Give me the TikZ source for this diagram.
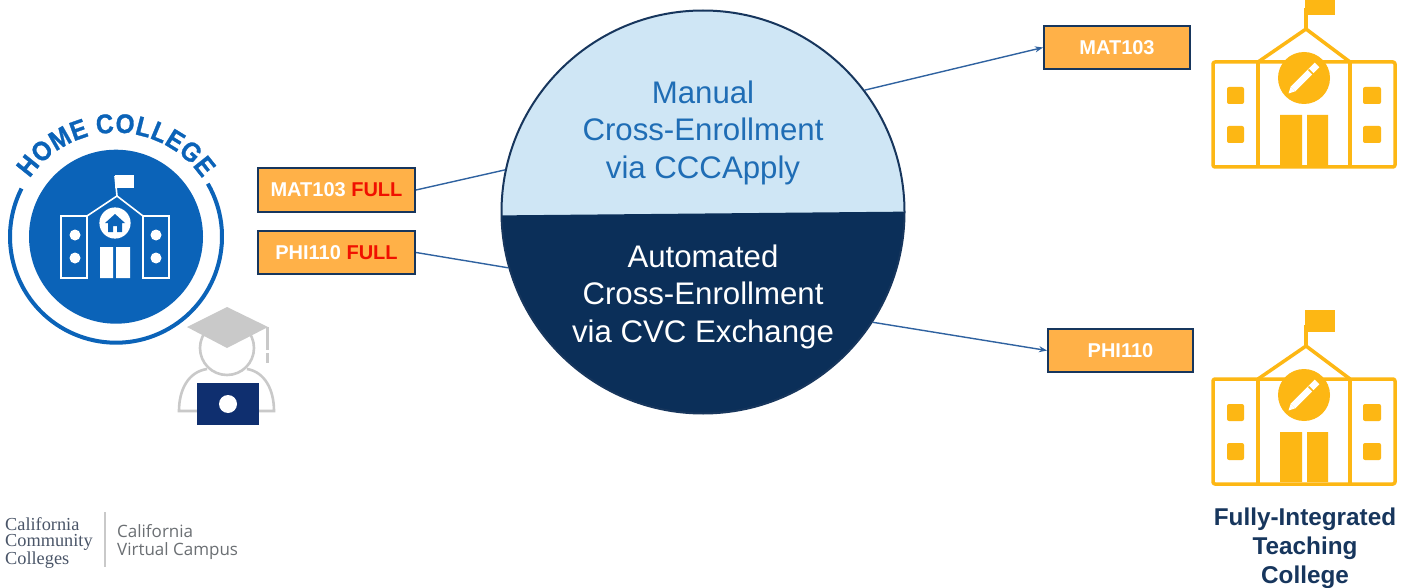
\documentclass[tikz,border=0pt]{standalone}
\usepackage{fontspec}
\setmainfont{Liberation Sans}
\newfontfamily\logoserif{Liberation Serif}
\newfontfamily\logosans{Open Sans}
\newfontfamily\homefont[FakeStretch=0.9,BoldFeatures={FakeBold=1}]{Liberation Sans}
\usetikzlibrary{decorations.text,arrows.meta}
\definecolor{lightblue}{HTML}{CFE6F5}
\definecolor{navy}{HTML}{0B2F59}
\definecolor{midblue}{HTML}{1F6DB5}
\definecolor{homeblue}{HTML}{0B63B8}
\definecolor{boxfill}{HTML}{FFB148}
\definecolor{boxline}{HTML}{17365D}
\definecolor{gold}{HTML}{FDB714}
\definecolor{capgray}{HTML}{C9C9C9}
\definecolor{laptop}{HTML}{0F2F6F}
\definecolor{fullred}{HTML}{F01000}
\definecolor{linkblue}{HTML}{2F62A0}
\definecolor{logoink}{HTML}{4A5568}
\definecolor{logogray}{HTML}{6B6F73}
\tikzset{
  course/.style={draw=boxline,line width=2pt,fill=boxfill,text=white,inner sep=0pt,
    font=\fontsize{20}{22}\selectfont\bfseries},
  hubtext/.style={align=center,inner sep=0pt,font=\fontsize{31.2}{37.5}\selectfont},
  link/.style={draw=linkblue,line width=1.4pt},
  arrowlink/.style={link,-{Stealth[length=8pt,width=6pt]}},
  school/.pic={
    \draw[gold,line width=3.5pt,line join=round,rounded corners=2pt]
      (1213,62) rectangle (1395,167);
    \draw[gold,line width=3.5pt,line join=round] (1258,62) -- (1306,29) -- (1350,62);
    \draw[gold,line width=3.5pt] (1258,62) -- (1258,167) (1350,62) -- (1350,167);
    \draw[gold,line width=3.5pt] (1306,29) -- (1306,8);
    \fill[gold] (1305,-7) rectangle (1335,15);
    \fill[gold] (1304,78) circle (26pt);
    \draw[white,line width=6.5pt] (1293,89) -- (1317,65);
    \fill[white] (1288.5,93.5) -- (1290.7,86.7) -- (1295.3,91.3) -- cycle;
    \draw[gold,line width=1.6pt] (1308.5,69.5) -- (1313.5,74.5);
    \fill[gold] (1280,115) rectangle (1302,165) (1307,115) rectangle (1328,165);
    \fill[gold,rounded corners=2pt] (1227,87) rectangle (1244,104) (1227,126) rectangle (1244,143)
      (1363,87) rectangle (1381,104) (1363,126) rectangle (1381,143);
  }
}
\begin{document}
\begin{tikzpicture}[x=1pt,y=-1pt]
\clip (0,0) rectangle (1410,588);
\fill[white] (0,0) rectangle (1410,588);

% hub
\begin{scope}
  \clip (703,212) circle (201.5pt);
  \fill[lightblue] (490,0) rectangle (920,216);
  \fill[navy] (490,215.5) -- (920,211.5) -- (920,430) -- (490,430) -- cycle;
\end{scope}
\node[circle,draw=boxline,line width=2pt,minimum size=403pt,inner sep=0pt] (hub) at (703,212) {};
\node[hubtext,text=midblue] (manual) at (703,132.5) {Manual\\Cross-Enrollment\\via CCCApply};
\node[hubtext,text=white] (auto) at (703,296.5) {Automated\\Cross-Enrollment\\via CVC Exchange};

% course boxes
\node[course,minimum width=157pt,minimum height=44pt] (matfull) at (336.5,190) {MAT103 \textcolor{fullred}{FULL}};
\node[course,minimum width=157pt,minimum height=43pt] (phifull) at (336.5,252.5) {PHI110 \textcolor{fullred}{FULL}};
\node[course,minimum width=146pt,minimum height=43pt] (mat) at (1117,47.5) {MAT103};
\node[course,minimum width=145pt,minimum height=43pt] (phi) at (1120.5,350.5) {PHI110};

% connectors
\draw[link] (matfull.east) -- (hub.168);
\draw[link] (phifull.east) -- (hub.196);
\draw[arrowlink] (hub.37) -- (mat.west);
\draw[arrowlink] (hub.-33) -- (phi.west);

% teaching colleges
\pic at (0,0) {school};
\pic at (0,317) {school};
\node[align=center,inner sep=0pt,text=boxline,font=\fontsize{24.3}{29}\selectfont\bfseries] (teach) at (1305,548)
  {Fully-Integrated\\Teaching\\College};

% home college
\fill[homeblue] (116,236.7) circle (87pt);
\coordinate (ringstart) at ([shift={(30:106pt)}]116,236.7);
\draw[homeblue,line width=4pt] (ringstart) arc[start angle=30,end angle=-207,radius=106pt];
\coordinate (textstart) at ([shift={(146:104pt)}]116,236.7);
\path[decorate,decoration={text along path,text align=fit to path,
  text={|\homefont\fontsize{27}{27}\selectfont\bfseries\color{homeblue}|HOME COLLEGE}}]
  (textstart) arc[start angle=146,end angle=34,radius=104pt];
\begin{scope}[white]
  \draw[line width=1.6pt] (61,216) rectangle (87,278) (143,216) rectangle (169,278);
  \draw[line width=1.6pt] (87,216) -- (117,196) -- (143,216);
  \draw[line width=1.6pt] (117,196) -- (115,176);
  \fill (115,175) rectangle (134,188);
  \fill (115,223) circle (15.6pt);
  \fill (100,247) rectangle (113,278) (116,247) rectangle (130,278);
  \fill (75,235) circle (5.5pt) (75,258) circle (5.5pt) (156,235) circle (5.5pt) (156,258) circle (5.5pt);
\end{scope}
\fill[homeblue] (115,214) -- (125,223) -- (122,223) -- (122,232) -- (117,232) -- (117,226) -- (113,226) -- (113,232) -- (108,232) -- (108,223) -- (105,223) -- cycle;

% student
\draw[capgray,line width=2.6pt] (227,348) circle (27pt);
\draw[capgray,line width=2.6pt] (197,411) -- (179,411) .. controls (179,390) and (188,372) .. (207,369);
\draw[capgray,line width=2.6pt] (259,411) -- (274,411) .. controls (274,390) and (265,372) .. (247,369);
\fill[capgray] (187,327) -- (227,307) -- (268,327) -- (227,348) -- cycle;
\draw[capgray,line width=3pt] (267,327) -- (267,350) (267,353) -- (267,363);
\fill[laptop] (197,383) rectangle (259,425);
\fill[white] (228,404) circle (9pt);

% logos
\node[anchor=west,inner sep=0pt,align=left,text=logoink,font=\logoserif\fontsize{18.3}{16}\selectfont] (ccc) at (5,543)
  {California\\Community\\Colleges};
\draw[capgray,line width=1.2pt] (105,512) -- (105,567);
\node[anchor=west,inner sep=0pt,align=left,text=logogray,font=\logosans\fontsize{17}{18}\selectfont] (cvc) at (117,542)
  {California\\Virtual Campus};
\end{tikzpicture}
\end{document}
